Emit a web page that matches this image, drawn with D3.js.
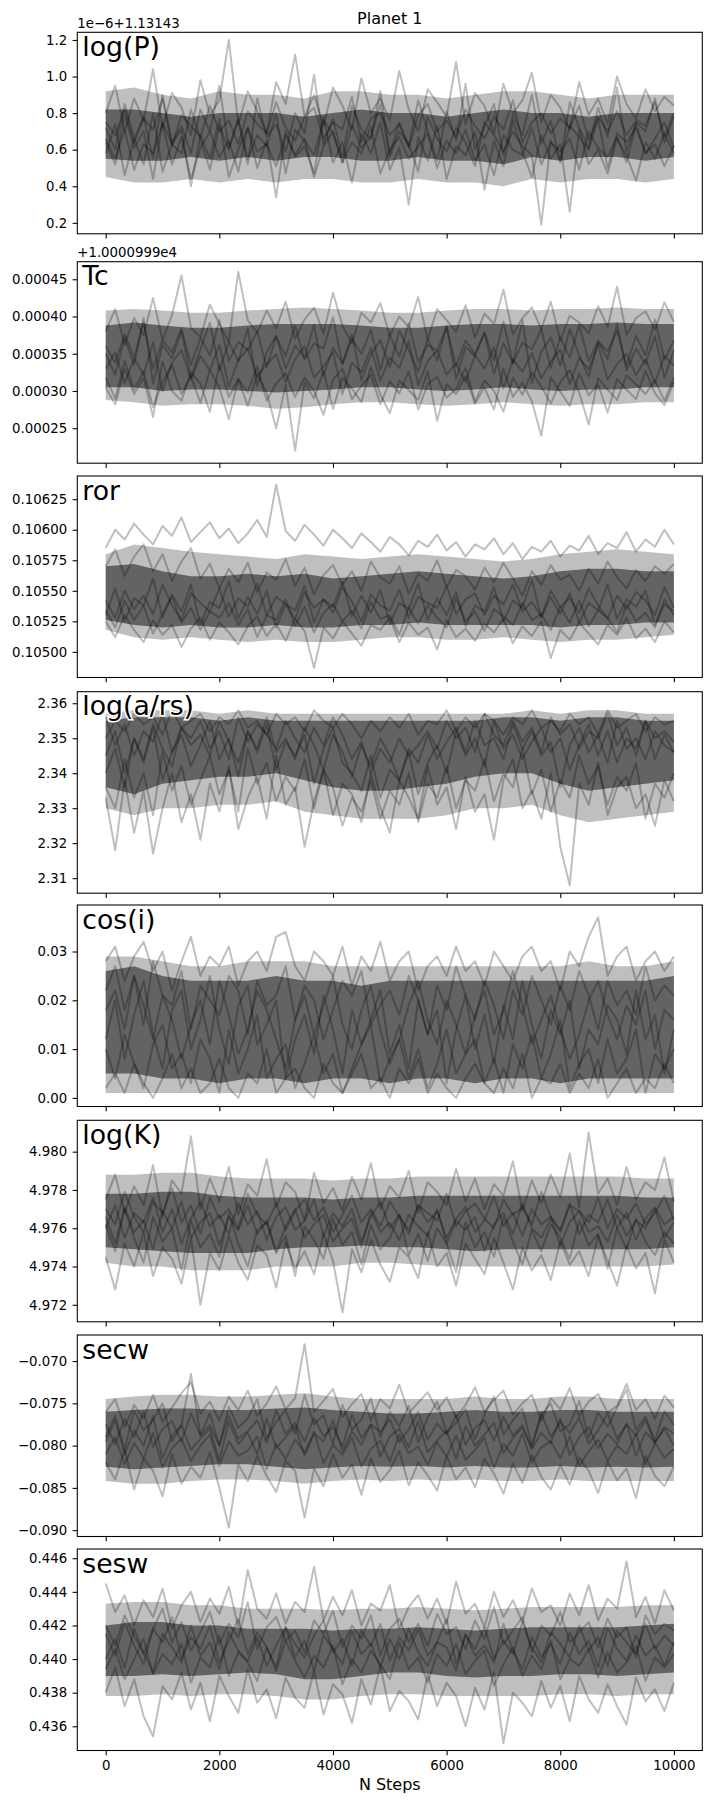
<!DOCTYPE html>
<html>
<head>
<meta charset="utf-8">
<script src="https://cdn.jsdelivr.net/npm/d3@7"></script>
<style>
  body { margin: 0; background: #fff; }
  svg { display: block; font-family: "DejaVu Sans", sans-serif; }
</style>
</head>
<body>
<svg id="chart"></svg>
<script>
// Trace plot of the MCMC walkers for planet 1, one panel per parameter.
// Values are stored as small integers; base + value * unit gives the axis value.
// "Spread" and "Core" are the envelopes of the walker cloud read every 500 steps,
// the walker arrays are individual traces read every ~167 steps.

const stepsTotal = 10000;
const xTicks = [0, 2000, 4000, 6000, 8000, 10000];

// ---- log(P): axis value = v * 0.01  (offset 1e-6 + 1.13143)
const logPWalkers = [
  [72,60,85,66,78,55,90,64,73,58,82,70,95,61,76,52,88,67,74,59,80,69,101,63,77,56,84,71,66,92,58,75,62,87,70,54,81,65,96,60,73,85,57,79,68,90,63,76,53,86,72,61,83,67,94,59,75,70,88,64,78],
  [58,74,46,66,52,80,48,63,71,40,68,55,77,45,60,72,50,65,34,70,56,62,47,78,53,64,42,69,58,75,49,61,30,67,54,73,44,62,57,70,38,65,51,76,59,45,68,55,63,26,71,52,60,47,66,57,43,64,55,69,58],
  [80,95,70,88,76,104,72,91,83,68,98,79,87,120,74,92,81,69,97,85,112,78,90,73,94,84,71,99,80,88,76,103,82,70,93,86,78,108,74,91,84,69,96,80,87,102,75,90,83,71,97,79,88,74,100,85,77,93,81,89,84],
  [64,52,79,61,70,44,75,63,58,82,66,49,73,60,77,55,68,62,80,47,71,65,57,76,69,53,74,61,67,85,56,70,63,48,78,66,59,72,64,51,75,68,59,70,62,57,19,65,54,73,67,60,77,50,69,64,72,58,66,75,61],
  [66,55,71,49,63,58,74,52,67,44,61,70,56,65,48,72,59,63,51,68,57,66,45,62,70,53,64,58,73,47,60,67,55,62,69,50,65,58,71,54,63,46,68,60,57,72,52,64,59,66,49,70,61,56,67,53,74,58,63,51,62],
  [75,68,82,64,77,71,88,62,79,73,67,84,70,76,63,81,74,69,86,72,65,78,83,66,75,71,89,64,77,80,68,74,61,79,85,70,76,67,82,73,66,78,71,87,64,75,80,69,77,72,84,65,78,70,81,68,76,73,86,67,80]
];
const logPSpread = [
  [45,42,42,44,42,44,42,44,44,42,42,44,42,42,40,44,42,44,44,42,44],
  [92,94,90,88,92,90,90,88,92,92,90,90,88,90,92,92,90,88,90,90,90]
];
const logPCore = [
  [55,54,54,56,54,56,54,56,56,54,54,56,54,54,52,56,54,56,56,54,56],
  [82,82,80,78,80,80,80,78,80,82,80,80,78,80,82,80,80,78,80,80,80]
];
const logPTicks = [0.2, 0.4, 0.6, 0.8, 1.0, 1.2];
const logPLim = [0.14, 1.242];

// ---- Tc: axis value = v * 1e-6  (offset +1.0000999e4)
const tcWalkers = [
  [350,322,371,335,398,310,362,344,380,318,356,392,328,366,340,384,306,352,374,330,361,345,389,320,358,337,376,314,349,368,332,381,355,326,370,341,387,316,359,347,378,323,364,338,395,311,353,372,334,383,348,319,366,343,390,327,357,336,374,318,355],
  [305,282,330,296,318,265,340,300,287,325,310,272,335,292,316,280,322,298,250,308,220,312,290,327,276,318,303,285,332,295,270,314,301,288,326,260,309,296,320,283,305,275,330,292,311,286,240,318,299,280,324,294,309,271,316,302,289,327,297,281,312],
  [380,410,362,398,375,425,368,402,455,385,372,416,390,366,460,395,378,408,384,420,370,396,412,377,432,388,364,405,392,418,374,400,386,426,369,410,395,380,415,372,404,390,436,376,398,412,383,420,368,401,392,378,414,386,440,375,398,407,382,419,393],
  [330,352,310,344,322,365,300,338,355,315,347,328,362,306,341,357,320,336,349,312,343,360,318,333,352,296,338,325,358,314,345,331,367,308,340,354,322,337,312,348,330,359,303,342,326,351,317,339,356,309,344,329,362,315,336,350,321,343,311,347,334],
  [360,338,376,345,392,330,368,352,384,335,371,348,395,340,366,355,380,332,373,347,388,342,364,357,399,336,370,350,382,328,375,346,391,339,362,354,386,333,368,349,379,341,393,337,365,356,383,331,372,345,389,340,367,353,381,334,374,348,396,342,368],
  [318,290,340,302,326,278,312,335,296,320,284,328,305,262,316,298,333,287,310,324,292,318,300,268,315,330,289,307,322,282,313,297,326,275,309,319,291,303,331,286,314,300,272,318,295,325,306,283,312,328,298,255,317,302,288,321,309,296,314,287,318]
];
const tcSpread = [
  [288,285,280,282,282,280,276,278,282,285,285,282,280,282,285,282,280,282,282,285,285],
  [408,410,408,405,405,408,410,412,410,408,405,405,408,410,410,408,410,410,412,410,410]
];
const tcCore = [
  [305,305,300,302,302,300,298,300,302,305,305,302,300,302,305,302,300,302,302,305,305],
  [388,392,388,385,385,388,390,390,390,388,385,385,388,390,390,388,390,390,392,390,390]
];
const tcTicks = [0.00025, 0.0003, 0.00035, 0.0004, 0.00045];
const tcLim = [0.000203, 0.0004736];

// ---- ror: axis value = 0.105 + v * 1e-5
const rorWalkers = [
  [85,100,92,105,96,88,103,95,110,90,98,106,93,101,89,97,108,94,137,99,91,104,96,87,100,93,85,97,90,82,94,88,79,91,86,96,83,90,78,88,84,93,80,89,76,86,82,91,78,87,83,95,80,89,85,98,82,92,86,100,88],
  [30,52,25,44,38,60,28,47,33,55,22,41,36,58,27,45,31,50,20,39,34,54,24,43,37,57,29,46,32,51,23,40,35,56,26,44,30,49,21,38,33,53,25,42,36,59,28,45,31,48,24,40,34,55,27,43,37,50,22,39,33],
  [25,12,30,18,8,26,14,22,4,19,28,10,24,16,6,21,29,13,23,9,27,17,-13,20,11,25,15,5,22,18,28,8,24,14,20,2,26,12,19,9,23,16,27,7,21,13,25,-5,18,10,24,15,6,22,14,28,11,19,8,25,16],
  [70,84,62,78,88,66,80,58,74,85,60,72,52,68,57,73,49,65,59,76,54,69,47,63,71,55,66,50,74,61,56,70,48,64,58,75,53,67,62,51,69,57,73,60,46,66,55,71,59,63,50,68,56,74,61,52,67,58,70,64,72],
  [42,28,50,35,46,31,55,38,26,48,40,33,52,29,44,37,56,30,45,39,27,49,36,43,32,53,41,25,47,38,34,51,28,45,40,36,54,31,43,48,30,46,39,55,33,41,29,50,37,44,32,52,38,27,46,35,49,42,30,53,36],
  [34,20,42,26,38,15,31,45,24,36,18,33,28,40,22,35,12,30,26,43,21,37,16,32,39,25,34,19,41,27,30,14,36,23,38,28,20,44,25,33,17,35,29,22,40,26,31,18,37,24,42,21,34,28,16,39,25,32,20,43,30]
];
const rorSpread = [
  [18,12,10,12,10,8,10,8,8,10,12,12,10,10,12,10,8,10,10,12,14],
  [80,88,85,82,80,78,76,80,78,76,78,80,78,76,74,76,80,82,84,82,80]
];
const rorCore = [
  [26,22,20,22,20,20,22,20,20,22,22,24,22,22,22,22,20,22,22,24,24],
  [70,72,66,62,62,64,62,64,60,62,64,66,64,62,60,62,66,68,68,66,66]
];
const rorTicks = [0.105, 0.10525, 0.1055, 0.10575, 0.106, 0.10625];
const rorLim = [0.10479, 0.10644];

// ---- log(a/rs): axis value = 2.3 + v * 1e-3
const logArsWalkers = [
  [50,55,52,57,54,56,51,58,53,55,57,52,56,54,58,53,55,51,57,54,56,52,58,55,53,57,54,50,55,52,56,53,57,51,55,54,58,52,56,53,57,55,51,56,54,58,53,55,52,57,54,56,51,58,53,55,57,52,56,54,55],
  [45,52,40,50,44,54,47,42,53,48,51,45,55,49,43,52,47,56,46,50,44,53,48,41,51,46,39,48,42,50,45,38,47,43,51,44,49,53,46,55,48,50,44,54,47,52,45,49,36,48,53,46,51,43,55,47,50,44,52,48,46],
  [33,18,38,23,35,17,30,40,26,34,21,37,29,42,24,33,39,27,45,31,36,19,32,41,28,37,34,26,40,30,23,38,33,27,42,31,36,24,39,29,34,21,38,44,30,35,27,40,19,8,37,31,43,28,36,39,30,34,25,38,32],
  [40,47,36,50,43,53,38,46,51,42,48,55,44,50,39,52,46,54,41,49,45,51,37,47,53,43,40,35,45,33,41,38,46,34,43,48,40,52,45,50,42,55,47,51,44,49,53,46,50,41,48,54,45,52,43,50,47,55,44,51,46],
  [56,48,54,45,52,49,57,46,53,50,55,47,52,44,56,49,54,51,47,55,50,46,53,48,56,51,44,49,40,47,43,50,45,48,52,47,55,50,53,46,57,51,48,55,49,53,46,56,51,54,47,52,50,57,48,53,45,55,50,52,49],
  [36,30,44,33,40,28,46,35,42,31,38,45,34,41,29,47,37,43,32,39,35,44,30,41,36,25,33,29,38,27,35,31,40,26,37,33,42,30,38,35,44,32,40,36,47,34,41,29,38,33,45,37,42,31,39,35,43,27,37,33,40]
];
const logArsSpread = [
  [30,28,30,30,31,31,32,29,28,27,27,27,28,30,30,31,28,26,27,28,29],
  [57,58,58,58,57,58,57,57,57,57,57,57,57,57,57,58,57,58,58,57,57]
];
const logArsCore = [
  [36,34,37,38,39,39,40,38,36,35,35,36,37,39,40,40,37,35,36,37,38],
  [55,56,56,56,55,56,55,55,55,55,55,55,55,55,56,56,55,56,56,55,55]
];
const logArsTicks = [2.31, 2.32, 2.33, 2.34, 2.35, 2.36];
const logArsLim = [2.3057, 2.3633];

// ---- cos(i): axis value = v * 1e-3
const cosiWalkers = [
  [28,31,24,29,32,26,30,22,28,33,25,29,27,31,23,28,30,26,33,34,27,24,30,28,25,31,23,29,26,32,24,28,30,22,27,29,25,31,26,28,23,30,27,24,29,31,26,28,22,30,27,33,37,25,29,31,24,28,30,26,29],
  [2,5,1,7,3,0,4,9,2,6,1,3,8,2,0,5,3,10,1,4,6,2,0,7,3,1,5,9,2,4,0,6,3,8,1,5,2,0,4,7,3,1,6,2,9,0,4,3,7,1,5,2,8,0,3,6,1,4,2,7,3],
  [18,22,14,25,19,12,21,16,8,15,20,11,24,17,9,14,22,18,12,6,16,21,13,19,25,15,10,18,23,14,7,12,19,24,16,11,20,15,9,17,22,13,18,26,19,11,16,21,14,8,13,20,24,17,12,19,15,22,10,18,16],
  [12,20,8,17,24,13,6,18,22,10,16,25,14,7,19,23,11,15,20,4,12,17,9,21,14,5,18,11,16,22,9,15,6,20,13,18,3,14,21,10,17,7,19,12,24,15,8,18,13,20,6,14,11,19,16,9,22,12,17,5,14],
  [22,27,18,25,15,28,21,19,26,14,23,20,17,25,22,13,24,19,21,27,16,23,20,12,18,24,21,26,15,19,22,17,25,20,13,23,18,27,21,16,24,19,12,22,17,25,20,15,23,18,26,21,14,24,19,22,17,27,20,23,21],
  [10,4,13,7,2,11,15,6,9,3,12,8,1,14,5,10,17,4,8,11,2,7,13,5,9,1,6,11,15,3,8,12,4,10,2,7,14,5,9,12,3,8,1,11,6,13,4,9,16,2,7,10,3,12,5,8,14,1,9,6,10]
];
const cosiSpread = [
  [1,1,1,1,1,1,1,1,1,1,1,1,1,1,1,1,1,1,1,1,1],
  [29,29,28,27,27,28,28,28,27,27,27,27,27,27,27,27,27,28,27,27,28]
];
const cosiCore = [
  [5,5,4,4,3,4,4,3,4,4,3,4,4,3,4,4,3,4,4,4,4],
  [26,27,25,24,24,24,25,24,24,23,24,24,24,24,24,24,24,24,24,24,25]
];
const cosiTicks = [0, 0.01, 0.02, 0.03];
const cosiLim = [-0.00176, 0.03953];

// ---- log(K): axis value = 4.97 + v * 1e-4
const logKWalkers = [
  [75,88,68,82,72,93,66,85,78,108,70,86,74,92,67,83,77,96,71,84,79,64,89,73,81,69,87,75,94,70,82,76,90,68,84,79,72,91,74,86,70,83,77,95,69,85,73,88,76,99,71,110,78,86,72,92,75,84,80,97,74],
  [45,28,52,40,58,35,50,44,31,55,20,47,38,56,42,33,51,46,29,53,39,48,36,57,43,16,49,37,54,41,32,50,45,34,58,40,47,30,52,44,36,55,42,28,50,38,46,33,53,41,48,35,56,43,30,51,39,47,26,54,42],
  [60,72,55,68,63,76,58,70,52,65,74,61,67,57,73,62,69,54,66,71,59,64,75,56,68,61,70,53,66,74,60,67,57,72,63,69,55,65,71,58,64,77,61,68,56,70,62,66,59,73,57,67,63,75,60,68,54,65,71,62,66],
  [66,52,71,58,64,49,69,60,74,55,63,68,51,66,59,72,57,64,48,61,70,55,62,67,53,60,65,50,69,58,63,54,67,61,56,70,52,64,59,66,48,62,68,57,73,60,55,65,51,63,69,58,61,53,67,56,64,60,70,55,63],
  [70,62,79,66,58,74,68,81,63,72,57,76,65,70,60,78,67,62,73,59,69,75,64,71,58,67,77,63,70,61,74,66,59,72,68,64,78,61,69,73,65,60,75,67,71,62,79,66,58,72,69,63,76,60,70,65,73,62,68,77,64],
  [62,48,70,55,42,66,53,60,38,64,50,57,45,68,52,40,59,63,47,56,35,61,54,44,65,51,58,41,62,49,55,67,46,57,43,60,52,37,63,50,58,45,66,53,41,59,48,62,55,44,64,51,57,39,60,49,65,53,46,58,52]
];
const logKSpread = [
  [42,40,40,38,38,38,40,40,40,42,42,41,40,40,40,40,40,40,40,40,41],
  [88,88,89,89,87,86,86,86,85,86,86,87,87,87,87,87,87,87,87,86,86]
];
const logKCore = [
  [50,49,48,47,47,47,49,50,50,51,50,50,49,48,49,49,49,49,49,49,50],
  [78,78,79,79,77,76,76,76,75,76,76,77,77,77,77,77,77,77,77,76,76]
];
const logKTicks = [4.972, 4.974, 4.976, 4.978, 4.98];
const logKLim = [4.97111, 4.98164];

// ---- secw: axis value = -v * 1e-4
const secwWalkers = [
  [760,745,778,752,768,740,772,755,738,725,762,748,770,742,758,735,765,750,730,757,744,680,760,747,733,766,751,739,770,745,756,728,762,749,737,758,743,767,752,731,760,746,735,763,750,740,771,744,757,732,765,748,739,761,753,727,758,745,768,741,755],
  [820,840,805,852,815,830,860,810,845,825,838,808,850,897,822,842,812,836,855,818,830,885,827,848,810,838,822,858,815,843,829,806,847,820,835,853,812,840,826,849,816,833,857,821,844,811,837,852,823,846,814,830,856,819,841,827,862,812,836,848,825],
  [795,770,810,782,800,765,815,788,776,805,792,780,818,772,798,785,810,768,803,790,777,812,786,795,770,807,783,799,775,813,789,780,802,771,808,794,782,816,777,800,787,773,809,791,779,804,785,797,768,811,790,778,803,786,798,774,812,784,796,780,800],
  [775,798,768,790,760,802,780,771,795,762,788,776,800,765,792,783,770,797,758,786,773,795,767,789,778,801,763,791,775,784,769,796,781,760,793,774,787,764,799,779,770,794,766,788,776,803,761,790,772,785,767,798,782,762,792,775,788,770,797,778,786],
  [810,790,822,797,815,785,826,803,792,818,800,787,824,795,812,806,789,828,798,816,793,808,784,821,799,811,790,825,804,794,819,787,809,801,823,796,813,788,817,805,791,827,798,812,786,820,802,795,815,789,824,807,793,818,800,810,786,822,797,814,804],
  [790,765,805,758,782,770,750,795,776,715,788,762,800,754,779,768,745,792,772,758,786,740,775,764,798,752,781,769,744,790,760,777,753,796,767,748,785,773,757,793,763,742,787,770,756,799,764,750,783,775,747,791,761,778,755,734,782,766,794,759,776]
];
const secwSpread = [
  [745,742,740,740,742,742,740,738,742,745,745,745,745,742,745,745,742,742,745,745,745],
  [842,845,845,842,840,840,842,845,842,840,842,840,842,840,842,842,840,842,842,842,842]
];
const secwCore = [
  [760,758,756,756,758,758,756,755,758,760,762,762,760,758,760,760,758,758,760,760,760],
  [825,828,826,824,822,822,825,828,826,824,825,824,826,824,826,826,824,826,825,826,825]
];
const secwTicks = [-0.09, -0.085, -0.08, -0.075, -0.07];
const secwLim = [-0.09075, -0.06692];

// ---- sesw: axis value = 0.43 + v * 1e-4
const seswWalkers = [
  [145,128,138,120,135,125,142,118,132,140,122,136,127,143,119,153,130,124,139,121,134,128,155,123,137,126,141,120,133,129,144,118,131,138,124,136,121,146,127,133,119,140,125,135,122,142,128,132,120,139,126,144,123,136,130,158,125,137,121,141,129],
  [80,95,72,88,66,54,84,76,92,70,86,63,90,78,68,94,74,82,65,89,77,71,93,67,85,79,62,88,73,96,69,81,75,64,91,72,86,78,60,83,70,92,50,80,74,66,87,71,84,63,90,76,68,85,72,61,89,75,82,69,86],
  [100,112,95,118,104,92,115,107,98,120,102,110,94,116,105,99,113,96,108,119,101,111,93,114,106,97,117,103,109,95,112,100,118,104,96,110,107,93,115,102,108,98,121,105,94,113,101,109,97,116,103,111,95,119,106,99,114,102,108,96,110],
  [115,102,122,108,97,118,110,125,100,113,106,120,98,111,124,103,116,107,95,119,109,101,114,123,104,112,96,117,108,121,99,113,105,118,102,110,124,97,114,106,119,100,111,103,122,107,98,116,109,101,120,105,113,96,117,110,103,121,106,114,108],
  [94,106,88,100,112,91,103,97,109,86,101,95,114,90,104,98,87,107,93,111,99,89,102,95,108,85,100,92,105,97,88,110,94,101,86,103,96,109,91,99,105,84,97,107,90,102,94,111,88,100,96,106,89,104,92,98,108,87,101,95,103],
  [120,108,126,114,103,118,130,110,122,105,116,128,109,121,113,134,106,119,125,111,117,104,123,115,129,107,120,112,126,102,118,124,110,121,108,127,115,119,106,123,112,131,109,117,125,104,120,114,128,110,116,122,107,124,113,119,101,126,115,121,117]
];
const seswSpread = [
  [78,78,79,78,79,79,78,76,76,78,79,79,78,78,78,78,79,79,78,79,79],
  [133,134,134,132,132,130,130,130,129,130,130,131,130,129,130,131,131,131,131,132,132]
];
const seswCore = [
  [90,90,91,90,91,92,91,88,88,90,92,92,90,89,90,90,91,91,90,91,92],
  [120,122,122,120,120,118,118,118,117,118,118,119,118,117,118,119,119,119,119,120,121]
];
const seswTicks = [0.436, 0.438, 0.44, 0.442, 0.444, 0.446];
const seswLim = [0.43456, 0.44655];

const panels = [
  { label: "log(P)",    walkers: logPWalkers,   spread: logPSpread,   core: logPCore,   base: 0,     unit: 0.01,  ticks: logPTicks,   lim: logPLim,   fmt: ".1f", offset: "1e\u22126+1.13143" },
  { label: "Tc",        walkers: tcWalkers,     spread: tcSpread,     core: tcCore,     base: 0,     unit: 1e-6,  ticks: tcTicks,     lim: tcLim,     fmt: ".5f", offset: "+1.0000999e4" },
  { label: "ror",       walkers: rorWalkers,    spread: rorSpread,    core: rorCore,    base: 0.105, unit: 1e-5,  ticks: rorTicks,    lim: rorLim,    fmt: ".5f" },
  { label: "log(a/rs)", walkers: logArsWalkers, spread: logArsSpread, core: logArsCore, base: 2.3,   unit: 1e-3,  ticks: logArsTicks, lim: logArsLim, fmt: ".2f" },
  { label: "cos(i)",    walkers: cosiWalkers,   spread: cosiSpread,   core: cosiCore,   base: 0,     unit: 1e-3,  ticks: cosiTicks,   lim: cosiLim,   fmt: ".2f" },
  { label: "log(K)",    walkers: logKWalkers,   spread: logKSpread,   core: logKCore,   base: 4.97,  unit: 1e-4,  ticks: logKTicks,   lim: logKLim,   fmt: ".3f" },
  { label: "secw",      walkers: secwWalkers,   spread: secwSpread,   core: secwCore,   base: 0,     unit: -1e-4, ticks: secwTicks,   lim: secwLim,   fmt: ".3f" },
  { label: "sesw",      walkers: seswWalkers,   spread: seswSpread,   core: seswCore,   base: 0.43,  unit: 1e-4,  ticks: seswTicks,   lim: seswLim,   fmt: ".3f" }
];

// layout (pixels)
const width = 711, height = 1811;
const left = 77.3, right = 702.3;
const panelTops = [32.3, 261.7, 476, 691.7, 905, 1120.3, 1335, 1549];
const panelH = 201.5;
const tickFont = 13.3;

const svg = d3.select("#chart").attr("width", width).attr("height", height);

const x = d3.scaleLinear().domain([-500, 10500]).range([left, right]);

panels.forEach((p, i) => {
  const top = panelTops[i];
  const y = d3.scaleLinear().domain(p.lim).range([top + panelH, top]);
  const val = d => p.base + d * p.unit;
  const n = p.walkers[0].length;
  const stepOf = j => j * stepsTotal / (n - 1);
  const bandStep = j => j * stepsTotal / (p.spread[0].length - 1);

  const g = svg.append("g");

  // envelope of the walker cloud
  const band = d3.area()
    .x((d, j) => x(bandStep(j)))
    .y0(d => y(val(d[0])))
    .y1(d => y(val(d[1])));
  const zipBand = b => b[0].map((v, j) => [v, b[1][j]]);

  g.append("path")
    .attr("d", band(zipBand(p.spread)))
    .attr("fill", "#000").attr("fill-opacity", 0.25);
  g.append("path")
    .attr("d", band(zipBand(p.core)))
    .attr("fill", "#000").attr("fill-opacity", 0.48);

  // individual walkers
  const line = d3.line()
    .x((d, j) => x(stepOf(j)))
    .y(d => y(val(d)));

  g.append("g").selectAll("path")
    .data(p.walkers)
    .join("path")
    .attr("d", line)
    .attr("fill", "none")
    .attr("stroke", "#000")
    .attr("stroke-opacity", 0.25)
    .attr("stroke-width", 2)
    .attr("stroke-linejoin", "round");

  // y axis
  const ay = g.append("g")
    .attr("transform", `translate(${left},0)`)
    .call(d3.axisLeft(y).tickValues(p.ticks).tickFormat(d3.format(p.fmt)).tickSize(4.7).tickPadding(5.5));
  ay.select(".domain").remove();
  ay.attr("font-size", tickFont).attr("font-family", "DejaVu Sans");
  ay.selectAll("line").attr("stroke-width", 1.07);
  ay.selectAll("text").attr("fill", "#000");

  // x axis (labels only on the last panel)
  const last = i === panels.length - 1;
  const ax = g.append("g")
    .attr("transform", `translate(0,${top + panelH})`)
    .call(d3.axisBottom(x).tickValues(xTicks)
      .tickFormat(last ? d3.format("d") : () => "")
      .tickSize(4.7).tickPadding(5.5));
  ax.select(".domain").remove();
  ax.attr("font-size", tickFont).attr("font-family", "DejaVu Sans");
  ax.selectAll("line").attr("stroke-width", 1.07);
  ax.selectAll("text").attr("fill", "#000");

  // frame
  g.append("rect")
    .attr("x", left).attr("y", top)
    .attr("width", right - left).attr("height", panelH)
    .attr("fill", "none").attr("stroke", "#000").attr("stroke-width", 1.07);

  // parameter name with white halo
  g.append("text")
    .attr("x", left + 5).attr("y", top + 23.5)
    .attr("font-size", 26.7)
    .attr("fill", "#000")
    .attr("stroke", "#fff").attr("stroke-width", 3)
    .attr("paint-order", "stroke")
    .text(p.label);

  if (p.offset) {
    g.append("text")
      .attr("x", left).attr("y", top - 4.4)
      .attr("font-size", tickFont)
      .text(p.offset);
  }
});

svg.append("text")
  .attr("x", (left + right) / 2).attr("y", 24.3)
  .attr("text-anchor", "middle").attr("font-size", 16)
  .text("Planet 1");

svg.append("text")
  .attr("x", (left + right) / 2).attr("y", 1790)
  .attr("text-anchor", "middle").attr("font-size", 16)
  .text("N Steps");
</script>
</body>
</html>
